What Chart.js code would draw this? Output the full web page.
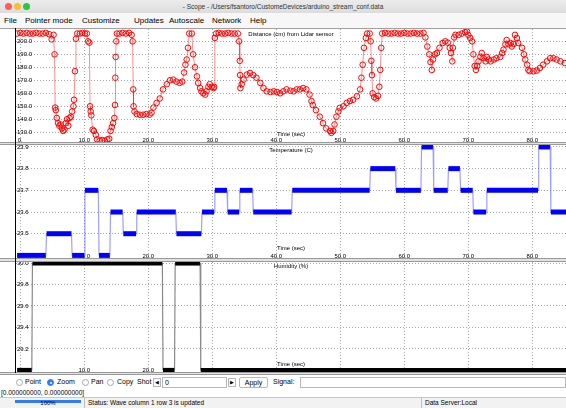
<!DOCTYPE html>
<html>
<head>
<meta charset="utf-8">
<script src="https://cdn.jsdelivr.net/npm/chart.js@4.4.1/dist/chart.umd.min.js"></script>
<style>
  body { margin: 0; width: 566px; height: 408px; overflow: hidden; background: #fff;
         font-family: "Liberation Sans", Arial, sans-serif; position: relative; color: #000; }
  .abs { position: absolute; }
  #titlebar { left: 0; top: 0; width: 566px; height: 13px; background: linear-gradient(#ececec, #dcdcdc); }
  #titlebar .dot { position: absolute; top: 3px; width: 7px; height: 7px; border-radius: 50%; }
  #titletext { left: 0; top: 1px; width: 566px; text-align: center; font-size: 6.5px; color: #333; line-height: 11px; }
  #menubar { left: 0; top: 13px; width: 566px; height: 15px; background: #f7f7f7; font-size: 8px; line-height: 15px; }
  #menubar span { position: absolute; top: 0; }
  .panel { left: 16px; width: 550px; }
  .sep { left: 0; width: 566px; background: #e2e2e2; border-top: 1px solid #9a9a9a; border-bottom: 1px solid #9a9a9a; box-sizing: border-box; }
  #leftline { left: 15px; top: 28px; width: 1px; height: 345px; background: #000; }
  .ctl { font-size: 7px; line-height: 10px; }
  .radio { width: 7px; height: 7px; border-radius: 50%; border: 1px solid #a8a8a8; background: #fff; box-sizing: border-box; }
  .box { border: 1px solid #b8b8b8; background: #fff; box-sizing: border-box; }
</style>
</head>
<body>
<div id="titlebar" class="abs">
  <div class="dot" style="left:5px;background:#fc5f57"></div>
  <div class="dot" style="left:14px;background:#fdbc2e"></div>
  <div class="dot" style="left:23px;background:#28c840"></div>
  <div id="titletext" class="abs">- Scope - /Users/fsantoro/CustomeDevices/arduino_stream_conf.data</div>
</div>
<div id="menubar" class="abs">
  <span style="left:4px">File</span>
  <span style="left:25px">Pointer mode</span>
  <span style="left:82px">Customize</span>
  <span style="left:134px">Updates</span>
  <span style="left:169px">Autoscale</span>
  <span style="left:212px">Network</span>
  <span style="left:250px">Help</span>
</div>
<div class="abs" style="left:0;top:28px;width:566px;height:1px;background:#a0a0a0"></div>

<div class="abs panel" style="top:29px;height:113px"><canvas id="distChart" width="550" height="113"></canvas></div>
<div class="abs sep" style="top:142px;height:3px"></div>
<div class="abs panel" style="top:145px;height:113px"><canvas id="tempChart" width="550" height="113"></canvas></div>
<div class="abs sep" style="top:258px;height:4px"></div>
<div class="abs panel" style="top:262px;height:110px"><canvas id="humChart" width="550" height="110"></canvas></div>
<div class="abs sep" style="top:372px;height:3px"></div>
<div id="leftline" class="abs"></div>

<div class="abs radio" style="left:16px;top:379px"></div>
<div class="abs ctl" style="left:25px;top:377px">Point</div>
<div class="abs radio" style="left:47px;top:379px;background:#2f7cf6;border-color:#2f7cf6"></div>
<div class="abs" style="left:49.5px;top:381.5px;width:2px;height:2px;border-radius:50%;background:#fff"></div>
<div class="abs ctl" style="left:57px;top:377px">Zoom</div>
<div class="abs radio" style="left:82px;top:379px"></div>
<div class="abs ctl" style="left:91px;top:377px">Pan</div>
<div class="abs radio" style="left:107px;top:379px"></div>
<div class="abs ctl" style="left:117px;top:377px">Copy</div>
<div class="abs ctl" style="left:137px;top:377px">Shot</div>
<div class="abs box ctl" style="left:153px;top:378px;width:8px;height:9px;font-size:5px;line-height:7px;text-align:center">&#9664;</div>
<div class="abs box ctl" style="left:162px;top:377px;width:65px;height:11px;padding-left:2px">0</div>
<div class="abs box ctl" style="left:228px;top:378px;width:8px;height:9px;font-size:5px;line-height:7px;text-align:center">&#9654;</div>
<div class="abs box ctl" style="left:239px;top:377px;width:29px;height:11px;text-align:center;border-radius:2px">Apply</div>
<div class="abs ctl" style="left:273px;top:377px">Signal:</div>
<div class="abs box" style="left:300px;top:377px;width:266px;height:11px"></div>
<div class="abs ctl" style="left:1px;top:388px;font-size:6.5px">[0.000000000, 0.000000000]</div>
<div class="abs" style="left:0;top:397px;width:566px;height:11px;background:#f2f2f2;border-top:1px solid #c8c8c8"></div>
<div class="abs" style="left:15px;top:400px;width:66px;height:3px;background:#2f7cf6"></div>
<div class="abs ctl" style="left:15px;top:398px;width:66px;text-align:center;font-size:6px">100%</div>
<div class="abs" style="left:84px;top:398px;width:1px;height:10px;background:#c0c0c0"></div>
<div class="abs ctl" style="left:88px;top:398px;font-size:6.5px">Status: Wave column 1 row 3 is updated</div>
<div class="abs" style="left:421px;top:398px;width:1px;height:10px;background:#c0c0c0"></div>
<div class="abs ctl" style="left:425px;top:398px;font-size:6.5px">Data Server:Local</div>

<script>
  // time axis (sec) shared by the three scopes
  const timeTicks = [0, 10, 20, 30, 40, 50, 60, 70, 80];

  // Distance (cm) from Lidar sensor
  const distTime = [-0.5, 0, 0.5, 1, 1.5, 2, 2.5, 3, 3.5, 4, 4.5, 4.9, 5.2, 5.35, 5.45, 5.55, 5.7, 5.9, 6.1, 6.3,
    6.5, 6.7, 6.9, 7.1, 7.3, 7.5, 7.7, 7.9, 8.1, 8.3, 8.4, 8.55, 8.7, 8.9, 9.3, 9.7, 10.1, 10.4, 10.6, 10.8,
    10.9, 11.0, 11.1, 11.3, 11.5, 11.8, 12.0, 12.4, 12.8, 13.2, 13.6, 13.9, 14.1, 14.3, 14.5, 14.7, 14.8, 14.85, 14.9, 15.0,
    15.1, 15.5, 16, 16.5, 17, 17.4, 17.55, 17.65, 17.7, 17.85, 18.2, 18.7, 19.2, 19.7, 20.2, 20.5, 20.8, 21.3, 21.8, 22.3,
    22.9, 23.4, 23.9, 24.4, 24.9, 25.3, 25.6, 25.8, 26.0, 26.2, 26.4, 26.8, 27.0, 27.3, 27.6, 27.8, 28.1, 28.3, 28.6, 28.9,
    29.1, 29.4, 29.6, 29.9, 30.2, 30.3, 30.4, 30.6, 31, 31.5, 32, 32.5, 33, 33.5, 34.0, 34.2, 34.3, 34.35, 34.4, 34.6,
    34.9, 35.4, 35.9, 36.4, 36.9, 37.5, 38.0, 38.5, 39.1, 39.6, 40.1, 40.6, 41.1, 41.6, 42.2, 42.7, 43.2, 43.7, 44.2, 44.7,
    45.2, 45.5, 45.7, 46.2, 46.8, 47.3, 47.8, 48.4, 48.6, 48.9, 49.1, 49.4, 49.7, 49.9, 50.5, 51.0, 51.5, 52.0, 52.6, 53.1,
    53.3, 53.5, 53.7, 54.0, 54.2, 54.6, 54.75, 54.85, 54.95, 55.05, 55.3, 55.6, 55.9, 56.1, 56.25, 56.4, 56.55, 57, 57.5, 58,
    58.5, 59, 59.5, 60, 60.5, 61, 61.5, 62, 62.5, 63, 63.3, 63.6, 63.9, 64.1, 64.3, 64.5, 64.8, 65.1, 65.5, 66.0,
    66.4, 66.8, 67.1, 67.3, 67.5, 67.6, 67.8, 68.0, 68.5, 69.0, 69.5, 69.8, 70.0, 70.3, 70.6, 70.8, 71.0, 71.2, 71.4, 71.6,
    71.9, 72.1, 72.4, 72.7, 72.9, 73.2, 73.5, 74.0, 74.4, 75.0, 75.3, 75.5, 75.8, 76.0, 76.3, 76.6, 76.8, 77.1, 77.3, 77.6,
    77.8, 78.4, 78.7, 78.9, 79.2, 79.4, 79.6, 80.2, 80.7, 81.2, 81.7, 82.3, 82.8, 83.3, 83.8, 84.4, 85.1];
  const distCm = [206, 206.5, 206, 206.5, 206, 206, 206.5, 206, 206, 206.5, 205.5, 201.5, 205, 190, 149, 147, 141, 137, 135, 136,
    133, 131, 132, 137, 140, 135, 141, 142, 146, 150, 155, 177, 202, 206, 206, 206.5, 206, 206, 200, 199,
    150, 146, 143, 132, 131, 128, 124.5, 123.5, 124, 123.5, 124.5, 125, 131, 134, 137, 141, 151, 172, 188, 200,
    206, 206, 206.5, 206, 206.5, 205, 200, 163, 150, 146, 144, 143.5, 143.5, 144, 143.5, 145, 149, 152.6, 156, 163,
    167, 170, 170.5, 169, 168, 169, 176, 182, 186, 195, 206, 206, 190, 180, 173, 168, 164, 161.5, 160, 159,
    161.5, 165, 167, 165, 164, 165, 202.6, 206, 206.5, 206, 206, 206.5, 206, 206, 206, 200, 185, 174, 164, 167,
    170.5, 174.4, 175.6, 174, 172, 168, 164, 161.5, 161, 161.5, 161, 160, 161.5, 163, 162, 161.5, 163, 163, 164, 163,
    159, 154, 151, 147, 142, 137, 133, 131, 129.5, 131, 136, 142, 146, 148.7, 150, 152.6, 154, 155, 157.7, 163,
    172, 182, 195, 202.6, 206, 206, 200, 185, 174, 160, 157, 156, 158, 165, 178, 195, 206, 206.5, 206, 206,
    206.5, 206, 206, 206.5, 206, 206, 206.5, 206, 206, 206.5, 203, 196, 190, 184, 178, 186, 190, 191, 195, 198.7,
    200, 199, 195, 191, 184.6, 195, 203, 205, 205, 206, 207, 207.5, 205, 202.6, 200, 190, 181, 178, 181, 184.6,
    188, 191, 187, 184.6, 188, 186, 184.6, 186, 187, 188, 191, 193.6, 197.7, 201, 197.7, 198.7, 196, 198, 205, 202.6,
    198.7, 195, 190, 186, 182, 178, 177, 177, 177.5, 179.5, 182, 184.6, 187, 187, 186, 184.6, 183.3];
  const distTicks = [130, 140, 150, 160, 170, 180, 190, 200];

  // Temperature (C): start/end time of each plateau
  const tempTime = [-0.5, 4.0, 4.1, 8.0, 8.1, 10.0, 10.1, 12.2, 12.3, 14.0, 14.1, 16.0, 16.1, 18.1, 18.2, 24.3,
    24.4, 28.3, 28.4, 30.3, 30.4, 32.3, 32.4, 34.2, 34.3, 36.3, 36.4, 42.4, 42.5, 54.6, 54.7, 58.6,
    58.7, 62.6, 62.7, 64.5, 64.6, 66.8, 66.9, 68.7, 68.8, 70.7, 70.8, 72.8, 72.9, 80.9, 81.0, 82.8, 82.9, 85.4];
  const tempC = [23.4, 23.4, 23.5, 23.5, 23.4, 23.4, 23.7, 23.7, 23.4, 23.4, 23.6, 23.6, 23.5, 23.5, 23.6, 23.6,
    23.5, 23.5, 23.6, 23.6, 23.7, 23.7, 23.6, 23.6, 23.7, 23.7, 23.6, 23.6, 23.7, 23.7, 23.8, 23.8,
    23.7, 23.7, 23.9, 23.9, 23.7, 23.7, 23.8, 23.8, 23.7, 23.7, 23.6, 23.6, 23.7, 23.7, 23.9, 23.9, 23.6, 23.6];
  const tempTicks = [23.5, 23.6, 23.7, 23.8, 23.9];

  // Humidity (%)
  const humTime = [-0.5, 1.8, 1.9, 22.2, 22.3, 24.1, 24.2, 28.1, 28.2, 85.4];
  const humPct = [29.0, 29.0, 30.0, 30.0, 29.0, 29.0, 30.0, 30.0, 29.0, 29.0];
  const humTicks = [29.2, 29.4, 29.6, 29.8, 30.0];

  const tiny = { family: '"Liberation Sans", Arial, sans-serif', size: 6 };

  const panelText = {
    id: 'panelText',
    afterDraw(chart, args, opts) {
      const { ctx, chartArea: a } = chart;
      const cx = (a.left + a.right) / 2;
      ctx.save();
      ctx.font = '6px "Liberation Sans", Arial, sans-serif';
      ctx.fillStyle = '#000';
      ctx.textAlign = 'center';
      ctx.textBaseline = 'middle';
      ctx.fillText(opts.title, cx, a.top + opts.titleY);
      ctx.fillText('Time (sec)', cx, a.bottom - opts.timeY);
      ctx.restore();
    }
  };

  function points(xs, ys) {
    return xs.map((x, i) => ({ x: x, y: ys[i] }));
  }

  // axes live inside the plot, so they take no room of their own
  function noRoom(axis) {
    if (axis.isHorizontal()) axis.height = 0; else axis.width = 0;
    axis.paddingTop = 0;
    axis.paddingBottom = 0;
    axis.paddingLeft = 0;
    axis.paddingRight = 0;
  }

  function scopeOptions(yMin, yMax, yTicks, title, titleY, timeY) {
    return {
      responsive: false,
      animation: false,
      devicePixelRatio: 1,
      layout: { padding: 0, autoPadding: false },
      plugins: {
        legend: { display: false },
        tooltip: { enabled: false },
        panelText: { title: title, titleY: titleY, timeY: timeY }
      },
      scales: {
        x: {
          type: 'linear',
          min: -0.67,
          max: 85.27,
          afterBuildTicks: (axis) => { axis.ticks = timeTicks.map(v => ({ value: v })); },
          afterFit: noRoom,
          grid: { color: '#a8a8a8', drawTicks: false },
          border: { display: false, dash: [1, 2] },
          ticks: {
            color: '#000', font: tiny, mirror: true, padding: -1.5, maxRotation: 0, autoSkip: false,
            callback: (v) => v === 0 ? '0.' : v.toFixed(1)
          }
        },
        y: {
          min: yMin,
          max: yMax,
          afterBuildTicks: (axis) => { axis.ticks = yTicks.map(v => ({ value: v })); },
          afterFit: noRoom,
          grid: { color: '#a8a8a8', drawTicks: false },
          border: { display: false, dash: [1, 2] },
          ticks: {
            color: '#000', font: tiny, mirror: true, padding: 1,
            callback: (v) => v.toFixed(1)
          }
        }
      }
    };
  }

  // plateaus drawn heavy, the jumps between them thin
  function stepSegments(heavy, light) {
    return {
      borderColor: (c) => c.p0.parsed.y === c.p1.parsed.y ? heavy : light,
      borderWidth: (c) => c.p0.parsed.y === c.p1.parsed.y ? 5 : 1.2
    };
  }

  new Chart(document.getElementById('distChart'), {
    type: 'line',
    data: {
      datasets: [{
        data: points(distTime, distCm),
        borderColor: 'rgba(255,0,0,0.45)',
        borderWidth: 1,
        pointRadius: 2.8,
        pointBorderWidth: 1,
        pointBorderColor: '#ff0000',
        pointBackgroundColor: 'rgba(255,255,255,0)',
        tension: 0
      }]
    },
    options: scopeOptions(122.5, 209.5, distTicks, 'Distance (cm) from Lidar sensor', 5.5, 8),
    plugins: [panelText]
  });

  new Chart(document.getElementById('tempChart'), {
    type: 'line',
    data: {
      datasets: [{
        data: points(tempTime, tempC),
        pointRadius: 0,
        borderColor: '#0000ff',
        borderWidth: 5,
        segment: stepSegments('#0000ff', 'rgba(80,80,255,0.55)')
      }]
    },
    options: scopeOptions(23.388, 23.909, tempTicks, 'Temperature (C)', 5, 10),
    plugins: [panelText]
  });

  new Chart(document.getElementById('humChart'), {
    type: 'line',
    data: {
      datasets: [{
        data: points(humTime, humPct),
        pointRadius: 0,
        borderColor: '#000',
        borderWidth: 5,
        segment: stepSegments('#000000', 'rgba(60,60,60,0.6)')
      }]
    },
    options: scopeOptions(28.985, 30.01, humTicks, 'Humidity (%)', 4, 8),
    plugins: [panelText]
  });
</script>
</body>
</html>
